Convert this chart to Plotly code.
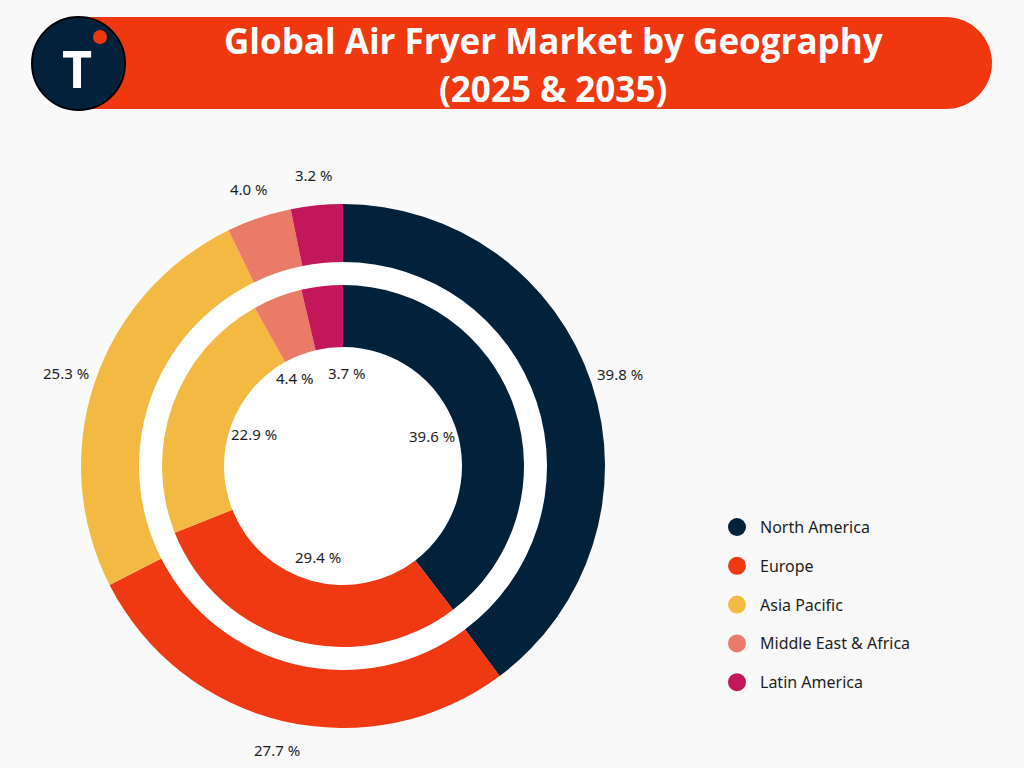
import math
import plotly.graph_objects as go

regions = ["North America", "Europe", "Asia Pacific", "Middle East & Africa", "Latin America"]
share_2035 = [39.8, 27.7, 25.3, 4.0, 3.2]   # outer ring
share_2025 = [39.6, 29.4, 22.9, 4.4, 3.7]   # inner ring
colors = ["#02223B", "#EF3912", "#F4B942", "#E97B68", "#C2185B"]
title_lines = ["Global Air Fryer Market by Geography", "(2025 & 2035)"]

W, H = 1024, 768
BG = "#F9F9F9"
CX, CY = 343, 466          # pie centre in pixels
R_OUT, R_OUT_IN = 262, 204
R_IN, R_IN_IN = 181, 119


def px_x(x):
    return x / W


def px_y(y):
    return 1 - y / H


def domain(r):
    return dict(x=[px_x(CX - r), px_x(CX + r)], y=[px_y(CY + r), px_y(CY - r)])


fig = go.Figure()
fig.add_trace(go.Pie(
    labels=regions, values=share_2035, hole=R_OUT_IN / R_OUT, sort=False,
    direction="clockwise", rotation=0, domain=domain(R_OUT),
    marker=dict(colors=colors, line=dict(width=0)), textinfo="none",
    showlegend=False, name="2035"))
fig.add_trace(go.Pie(
    labels=regions, values=share_2025, hole=R_IN_IN / R_IN, sort=False,
    direction="clockwise", rotation=0, domain=domain(R_IN),
    marker=dict(colors=colors, line=dict(width=0)), textinfo="none",
    showlegend=False, name="2025"))

shapes = []
annotations = []

# white disc behind rings
shapes.append(dict(type="circle", xref="paper", yref="paper", layer="below",
                   x0=px_x(CX - R_OUT_IN), x1=px_x(CX + R_OUT_IN),
                   y0=px_y(CY + R_OUT_IN), y1=px_y(CY - R_OUT_IN),
                   fillcolor="white", line=dict(width=0)))


def text_ann(x, y, text, size, color="#1E1E1E", family="Noto Sans", xanchor="center",
             weight=400):
    return dict(x=px_x(x), y=px_y(y), xref="paper", yref="paper", text=text,
                showarrow=False, xanchor=xanchor, yanchor="middle",
                font=dict(family=family, size=size, color=color, weight=weight))


def label_positions(values, radius, min_dx=52, min_dy=20):
    total = sum(values)
    pos = []
    acc = 0
    for v in values:
        mid = (acc + v / 2) / total * 2 * math.pi
        acc += v
        pos.append([CX + radius * math.sin(mid), CY - radius * math.cos(mid)])
    # simple repel between neighbouring labels
    for _ in range(20):
        for i in range(len(pos)):
            for j in range(i + 1, len(pos)):
                dx = pos[j][0] - pos[i][0]
                dy = pos[j][1] - pos[i][1]
                if abs(dx) < min_dx and abs(dy) < min_dy:
                    push = (min_dx - abs(dx)) / 2
                    s = 1 if dx >= 0 else -1
                    pos[i][0] -= s * push
                    pos[j][0] += s * push
    return pos


for vals, rad in ((share_2035, 292), (share_2025, 94)):
    for v, (x, y) in zip(vals, label_positions(vals, rad)):
        annotations.append(text_ann(x, y, f"{v:.1f} %", 15))

# legend
for i, (name, c) in enumerate(zip(regions, colors)):
    ly = 527 + i * 38.8
    shapes.append(dict(type="circle", xref="paper", yref="paper",
                       x0=px_x(728), x1=px_x(746), y0=px_y(ly + 9), y1=px_y(ly - 9),
                       fillcolor=c, line=dict(width=0)))
    annotations.append(text_ann(758, ly, name, 16, xanchor="left"))

# title bar
BAR_L, BAR_R, BAR_T, BAR_B = 75, 992, 17, 109
rr = (BAR_B - BAR_T) / 2
shapes.append(dict(type="rect", xref="paper", yref="paper",
                   x0=px_x(BAR_L), x1=px_x(BAR_R - rr), y0=px_y(BAR_B), y1=px_y(BAR_T),
                   fillcolor="#EF3710", line=dict(width=0)))
shapes.append(dict(type="circle", xref="paper", yref="paper",
                   x0=px_x(BAR_R - 2 * rr), x1=px_x(BAR_R), y0=px_y(BAR_B), y1=px_y(BAR_T),
                   fillcolor="#EF3710", line=dict(width=0)))
# logo
shapes.append(dict(type="circle", xref="paper", yref="paper",
                   x0=px_x(32), x1=px_x(125), y0=px_y(110), y1=px_y(17),
                   fillcolor="#02223B", line=dict(width=2, color="#000000")))
shapes.append(dict(type="circle", xref="paper", yref="paper",
                   x0=px_x(93), x1=px_x(107), y0=px_y(44), y1=px_y(30),
                   fillcolor="#EF3710", line=dict(width=0)))
annotations.append(text_ann(77, 68, "T", 52, color="white", family="Open Sans", weight=700))
for i, line in enumerate(title_lines):
    annotations.append(text_ann(553, 40 + i * 48, line, 35, color="white",
                                family="Open Sans", weight=700))

fig.update_layout(width=W, height=H, margin=dict(l=0, r=0, t=0, b=0),
                  paper_bgcolor=BG, plot_bgcolor=BG, shapes=shapes,
                  annotations=annotations, showlegend=False)
fig.write_html("out.html")
